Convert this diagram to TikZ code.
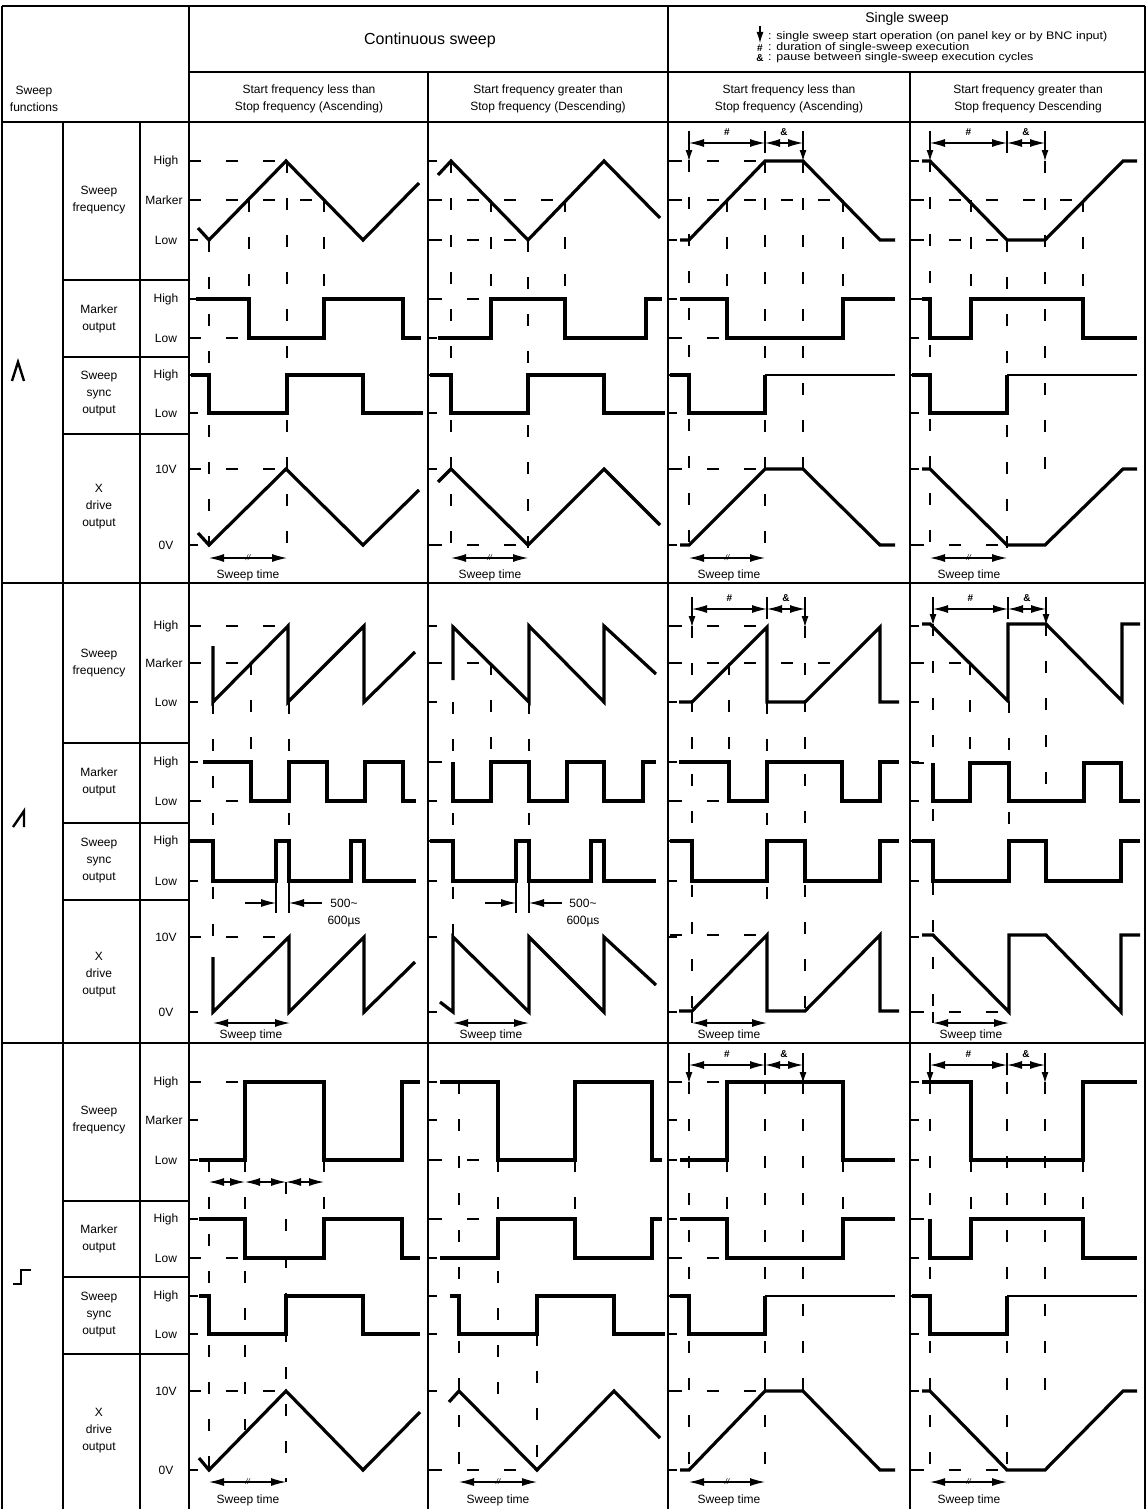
\documentclass[tikz,border=0pt]{standalone}
\usepackage{fontspec}
\setmainfont{Liberation Sans}
\usetikzlibrary{arrows.meta}

\begin{document}
\begin{tikzpicture}[x=1pt,y=-1pt,
                   frame/.style={line width=1.8pt},
                   wave/.style={line width=3.2pt,line join=miter},
                   wavethin/.style={line width=1.7pt},
                   lvl/.style={line width=1.4pt,dash pattern=on 12pt off 25pt},
                   tick/.style={line width=1.4pt},
                   dimarr/.style={line width=1.2pt,{Latex[length=15pt,width=8pt]}-{Latex[length=15pt,width=8pt]}},
                   trig/.style={line width=1.1pt,-{Latex[length=11pt,width=7pt]}},
                   brk/.style={font=\fontsize{8}{8}\selectfont\itshape,inner sep=0pt},
                   lab/.style={font=\fontsize{12}{17}\selectfont,inner sep=0pt,align=center},
                   small/.style={font=\fontsize{11}{11}\selectfont,inner sep=0pt,anchor=west},
                   sym/.style={font=\bfseries\fontsize{10}{10}\selectfont,inner sep=0pt}]
  \useasboundingbox (0,0) rectangle (1146,1509);

  % table
  \draw[frame] (2,6) -- (1145,6) (2,6) -- (2,1509) (1145,6) -- (1145,1509)
               (189,6) -- (189,1509) (668,6) -- (668,1509)
               (428,72) -- (428,1509) (910,72) -- (910,1509)
               (189,72) -- (1145,72) (2,122) -- (1145,122)
               (2,583) -- (1145,583) (2,1043) -- (1145,1043)
               (63,122) -- (63,1509) (140,122) -- (140,1509);

  % headers
  \node[lab] (swf) at (34,99) {Sweep\\functions};
  \node[font=\fontsize{16}{16}\selectfont,inner sep=0pt] (cont) at (430,40) {Continuous sweep};
  \node[font=\fontsize{14}{14}\selectfont,inner sep=0pt] (single) at (907,19) {Single sweep};
  \coordinate (legtop) at (760,26);
  \coordinate (legbot) at (760,43);
  \draw[trig] (legtop) -- (legbot);
  \node[small] (leg1) at (768,37) {\scalebox{1.14}[1]{: single sweep start operation (on panel key or by BNC input)}};
  \node[sym] (hash) at (760,48) {\#};
  \node[small] (leg2) at (768,48) {\scalebox{1.14}[1]{: duration of single-sweep execution}};
  \node[sym] (amp) at (760,58) {\&};
  \node[small] (leg3) at (768,58) {\scalebox{1.14}[1]{: pause between single-sweep execution cycles}};
  \node[lab] (asc1) at (309,99) {Start frequency less than\\Stop frequency (Ascending)};
  \node[lab] (desc1) at (548,99) {Start frequency greater than\\Stop frequency (Descending)};
  \node[lab] (asc2) at (789,99) {Start frequency less than\\Stop frequency (Ascending)};
  \node[lab] (desc2) at (1028,99) {Start frequency greater than\\Stop frequency Descending};

  % function symbols
  \draw[line width=2.4pt] (12,381) -- (18,362) -- (24,381);
  \draw[line width=2.4pt] (13,827) -- (24,811) -- (24,827);
  \draw[line width=2.4pt] (13,1284) -- (21,1284) -- (21,1270) -- (31,1270);

  % row labels, separators and level ticks
  \foreach \b/\yH/\yM/\yL/\mH/\mL/\sH/\sL/\xH/\xL/\sa/\sb/\sc in
      {1/161/200/240/299/338/375/413/469/545/280/357/434,
       2/626/663/702/762/801/841/881/937/1012/743/823/900,
       3/1082/1120/1160/1219/1258/1296/1334/1391/1470/1201/1277/1354}{
    \node[lab] (hi\b) at (166,\yH) {High};
    \node[lab] (mk\b) at (164,\yM) {Marker};
    \node[lab] (lo\b) at (166,\yL) {Low};
    \node[lab] (mhi\b) at (166,\mH) {High};
    \node[lab] (mlo\b) at (166,\mL) {Low};
    \node[lab] (shi\b) at (166,\sH) {High};
    \node[lab] (slo\b) at (166,\sL) {Low};
    \node[lab] (xhi\b) at (166,\xH) {10V};
    \node[lab] (xlo\b) at (166,\xL) {0V};
    \node[lab] (fq\b) at (99,\yM) {Sweep\\frequency};
    \node[lab] (mo\b) at (99,{(\mH+\mL)/2}) {Marker\\output};
    \node[lab] (so\b) at (99,{(\sH+\sL)/2}) {Sweep\\sync\\output};
    \node[lab] (xo\b) at (99,{(\xH+\xL)/2}) {X\\drive\\output};
    \draw[frame] (63,\sa) -- (189,\sa) (63,\sb) -- (189,\sb) (63,\sc) -- (189,\sc);
    \foreach \x in {189,428,668,910}
      \foreach \y in {\yH,\yM,\yL,\mH,\mL,\sH,\sL,\xH,\xL}
        \draw[tick] (\x,\y) -- ++(9,0);
  }

  %% block 1 : triangle
  % continuous, ascending
  \draw[lvl] (189,161) -- (286,161) (189,200) -- (324,200) (189,338) -- (249,338) (189,469) -- (286,469);
  \draw[lvl] (209,240) -- (209,545) (249,200) -- (249,299) (287,161) -- (287,558) (324,200) -- (324,299);
  \draw[wave] (198,228) -- (209,240) -- (286,161) -- (363,240) -- (419,183);
  \draw[wave] (196,299) -- (249,299) -- (249,338) -- (324,338) -- (324,299) -- (403,299) -- (403,338) -- (421,338);
  \draw[wave] (191,375) -- (209,375) -- (209,413) -- (287,413) -- (287,375) -- (363,375) -- (363,413) -- (423,413);
  \draw[wave] (198,533) -- (209,545) -- (286,469) -- (363,545) -- (419,490);
  \draw[dimarr] (209,558) -- node[brk]{//} (287,558);
  \node[lab] (st11) at (248,575) {Sweep time};
  % continuous, descending
  \draw[lvl] (430,200) -- (565,200) (430,240) -- (528,240) (430,299) -- (491,299) (430,545) -- (528,545);
  \draw[lvl] (451,161) -- (451,545) (491,200) -- (491,299) (528,240) -- (528,558) (565,200) -- (565,299);
  \draw[wave] (438,175) -- (451,161) -- (528,240) -- (604,161) -- (660,218);
  \draw[wave] (438,338) -- (491,338) -- (491,299) -- (565,299) -- (565,338) -- (646,338) -- (646,299) -- (662,299);
  \draw[wave] (430,375) -- (451,375) -- (451,413) -- (528,413) -- (528,375) -- (604,375) -- (604,413) -- (665,413);
  \draw[wave] (438,482) -- (451,469) -- (528,545) -- (604,469) -- (660,525);
  \draw[dimarr] (451,558) -- node[brk]{//} (528,558);
  \node[lab] (st12) at (490,575) {Sweep time};
  % single, ascending
  \draw[lvl] (670,161) -- (765,161) (670,200) -- (843,200) (670,338) -- (727,338) (670,469) -- (765,469);
  \draw[lvl] (689,160) -- (689,545) (727,200) -- (727,299) (765,161) -- (765,558) (803,161) -- (803,469) (843,200) -- (843,299);
  \draw[wave] (680,240) -- (689,240) -- (765,161) -- (803,161) -- (880,240) -- (895,240);
  \draw[wave] (680,299) -- (727,299) -- (727,338) -- (843,338) -- (843,299) -- (895,299);
  \draw[wave] (670,375) -- (689,375) -- (689,413) -- (765,413) -- (765,375);
  \draw[wavethin] (765,375) -- (895,375);
  \draw[wave] (680,545) -- (689,545) -- (765,469) -- (803,469) -- (880,545) -- (895,545);
  \draw[dimarr] (689,143) -- node[sym,above=7pt]{\#} (765,143);
  \draw[dimarr] (765,143) -- node[sym,above=7pt]{\&} (803,143);
  \draw[tick,line width=1.1pt] (765,131) -- (765,153);
  \draw[trig] (689,131) -- (689,161);
  \draw[trig] (803,131) -- (803,161);
  \draw[dimarr] (689,558) -- node[brk]{//} (765,558);
  \node[lab] (st13) at (729,575) {Sweep time};
  % single, descending
  \draw[lvl] (912,200) -- (1083,200) (912,240) -- (1007,240) (912,299) -- (930,299) (912,545) -- (1007,545);
  \draw[lvl] (930,160) -- (930,545) (971,200) -- (971,299) (1007,240) -- (1007,558) (1045,161) -- (1045,469) (1083,200) -- (1083,299);
  \draw[wave] (922,161) -- (930,161) -- (1007,240) -- (1045,240) -- (1123,161) -- (1137,161);
  \draw[wave] (922,299) -- (930,299) -- (930,338) -- (971,338) -- (971,299) -- (1083,299) -- (1083,338) -- (1137,338);
  \draw[wave] (912,375) -- (930,375) -- (930,413) -- (1007,413) -- (1007,375);
  \draw[wavethin] (1007,375) -- (1137,375);
  \draw[wave] (922,469) -- (930,469) -- (1007,545) -- (1045,545) -- (1123,469) -- (1137,469);
  \draw[dimarr] (930,143) -- node[sym,above=7pt]{\#} (1007,143);
  \draw[dimarr] (1007,143) -- node[sym,above=7pt]{\&} (1045,143);
  \draw[tick,line width=1.1pt] (1007,131) -- (1007,153);
  \draw[trig] (930,131) -- (930,161);
  \draw[trig] (1045,131) -- (1045,161);
  \draw[dimarr] (930,558) -- node[brk]{//} (1007,558);
  \node[lab] (st14) at (969,575) {Sweep time};

  %% block 2 : sawtooth
  % continuous, ascending
  \draw[lvl] (189,626) -- (288,626) (189,663) -- (251,663) (189,801) -- (251,801) (189,937) -- (289,937);
  \draw[lvl] (213,702) -- (213,1012) (251,663) -- (251,762) (289,702) -- (289,841);
  \draw[wave] (213,646) -- (213,702) -- (288,626) -- (288,702) -- (364,626) -- (364,702) -- (415,652);
  \draw[wave] (203,762) -- (251,762) -- (251,801) -- (289,801) -- (289,762) -- (327,762) -- (327,801) -- (365,801) -- (365,762) -- (403,762) -- (403,801) -- (416,801);
  \draw[wave] (189,841) -- (213,841) -- (213,881) -- (276,881) -- (276,841) -- (289,841) -- (289,881) -- (351,881) -- (351,841) -- (364,841) -- (364,881) -- (416,881);
  \draw[tick,line width=1.1pt] (276,881) -- (276,913) (289,881) -- (289,913);
  \draw[trig,-{Latex[length=15pt,width=8pt]}] (245,903) -- (276,903);
  \draw[trig,-{Latex[length=15pt,width=8pt]}] (322,903) -- (289,903);
  \node[lab] (pw1a) at (344,903) {500\textasciitilde};
  \node[lab] (pw1b) at (344,922) {600µs};
  \draw[wave] (213,957) -- (213,1012) -- (289,937) -- (289,1012) -- (364,937) -- (364,1012) -- (415,962);
  \draw[dimarr] (213,1023) -- (290,1023);
  \node[lab] (st21) at (251,1035) {Sweep time};
  % continuous, descending
  \draw[lvl] (430,663) -- (491,663) (430,762) -- (453,762);
  \draw[lvl] (453,702) -- (453,937) (491,663) -- (491,762) (529,702) -- (529,841);
  \draw[wave] (453,680) -- (453,627) -- (529,702) -- (529,626) -- (604,702) -- (604,626) -- (656,674);
  \draw[wave] (453,762) -- (453,801) -- (491,801) -- (491,762) -- (529,762) -- (529,801) -- (567,801) -- (567,762) -- (604,762) -- (604,801) -- (643,801) -- (643,762) -- (656,762);
  \draw[wave] (430,841) -- (453,841) -- (453,881) -- (516,881) -- (516,841) -- (529,841) -- (529,881) -- (591,881) -- (591,841) -- (604,841) -- (604,881) -- (656,881);
  \draw[tick,line width=1.1pt] (516,881) -- (516,913) (529,881) -- (529,913);
  \draw[trig,-{Latex[length=15pt,width=8pt]}] (485,903) -- (516,903);
  \draw[trig,-{Latex[length=15pt,width=8pt]}] (562,903) -- (529,903);
  \node[lab] (pw2a) at (583,903) {500\textasciitilde};
  \node[lab] (pw2b) at (583,922) {600µs};
  \draw[wave] (440,1002) -- (453,1012) -- (453,937) -- (529,1012) -- (529,937) -- (604,1012) -- (604,937) -- (656,985);
  \draw[dimarr] (453,1023) -- (529,1023);
  \node[lab] (st22) at (491,1035) {Sweep time};
  % single, ascending
  \draw[lvl] (670,626) -- (767,626) (670,663) -- (832,663) (670,801) -- (729,801) (670,935) -- (767,935);
  \draw[lvl] (692,626) -- (692,1011) (729,663) -- (729,762) (767,702) -- (767,915) (805,626) -- (805,1011);
  \draw[wave] (679,702) -- (692,702) -- (767,627) -- (767,702) -- (805,702) -- (880,627) -- (880,702) -- (899,702);
  \draw[wave] (679,762) -- (729,762) -- (729,801) -- (767,801) -- (767,762) -- (842,762) -- (842,801) -- (880,801) -- (880,762) -- (899,762);
  \draw[wave] (670,841) -- (692,841) -- (692,881) -- (767,881) -- (767,841) -- (805,841) -- (805,881) -- (880,881) -- (880,841) -- (899,841);
  \draw[wave] (679,1011) -- (692,1011) -- (767,935) -- (767,1011) -- (805,1011) -- (880,935) -- (880,1011) -- (899,1011);
  \draw[dimarr] (692,609) -- node[sym,above=7pt]{\#} (767,609);
  \draw[dimarr] (767,609) -- node[sym,above=7pt]{\&} (805,609);
  \draw[tick,line width=1.1pt] (767,597) -- (767,619);
  \draw[trig] (692,597) -- (692,627);
  \draw[trig] (805,597) -- (805,627);
  \draw[tick,line width=1.1pt] (692,1011) -- (692,1023);
  \draw[dimarr] (692,1023) -- (767,1023);
  \node[lab] (st23) at (729,1035) {Sweep time};
  % single, descending
  \draw[lvl] (912,663) -- (965,663) (912,763) -- (933,763) (912,1012) -- (1009,1012);
  \draw[lvl] (933,624) -- (933,1012) (970,663) -- (970,763) (1009,701) -- (1009,841) (1046,624) -- (1046,801);
  \draw[wave] (922,624) -- (930,624) -- (1008,701) -- (1008,624) -- (1046,624) -- (1122,701) -- (1122,624) -- (1140,624);
  \draw[wave] (933,763) -- (933,801) -- (970,801) -- (970,763) -- (1009,763) -- (1009,801) -- (1084,801) -- (1084,763) -- (1121,763) -- (1121,801) -- (1140,801);
  \draw[wave] (912,841) -- (933,841) -- (933,881) -- (1009,881) -- (1009,841) -- (1046,841) -- (1046,881) -- (1121,881) -- (1121,841) -- (1140,841);
  \draw[wave] (922,935) -- (933,935) -- (1009,1012) -- (1009,935) -- (1046,935) -- (1121,1012) -- (1121,935) -- (1140,935);
  \draw[dimarr] (933,609) -- node[sym,above=7pt]{\#} (1008,609);
  \draw[dimarr] (1008,609) -- node[sym,above=7pt]{\&} (1046,609);
  \draw[tick,line width=1.1pt] (1008,597) -- (1008,619);
  \draw[trig] (933,597) -- (933,625);
  \draw[trig] (1046,597) -- (1046,625);
  \draw[tick,line width=1.1pt] (933,1012) -- (933,1023);
  \draw[dimarr] (933,1023) -- (1009,1023);
  \node[lab] (st24) at (971,1035) {Sweep time};

  %% block 3 : step
  % continuous, ascending
  \draw[lvl] (189,1082) -- (245,1082) (189,1258) -- (245,1258) (189,1391) -- (286,1391);
  \draw[lvl] (209,1160) -- (209,1470) (245,1160) -- (245,1430) (286,1182) -- (286,1482) (324,1160) -- (324,1219);
  \draw[wave] (199,1160) -- (245,1160) -- (245,1082) -- (324,1082) -- (324,1160) -- (402,1160) -- (402,1082) -- (420,1082);
  \draw[dimarr] (209,1182) -- (245,1182);
  \draw[dimarr] (245,1182) -- (286,1182);
  \draw[dimarr] (286,1182) -- (324,1182);
  \draw[wave] (199,1219) -- (245,1219) -- (245,1258) -- (324,1258) -- (324,1219) -- (402,1219) -- (402,1258) -- (420,1258);
  \draw[wave] (199,1296) -- (209,1296) -- (209,1334) -- (286,1334) -- (286,1296) -- (363,1296) -- (363,1334) -- (420,1334);
  \draw[wave] (199,1458) -- (209,1470) -- (286,1391) -- (363,1470) -- (420,1412);
  \draw[dimarr] (209,1482) -- node[brk]{//} (286,1482);
  \node[lab] (st31) at (248,1500) {Sweep time};
  % continuous, descending
  \draw[lvl] (430,1160) -- (482,1160) (430,1219) -- (482,1219) (430,1470) -- (537,1470);
  \draw[lvl] (459,1082) -- (459,1470) (498,1160) -- (498,1400) (575,1160) -- (575,1219) (537,1334) -- (537,1470);
  \draw[wave] (440,1082) -- (498,1082) -- (498,1160) -- (575,1160) -- (575,1082) -- (652,1082) -- (652,1160) -- (662,1160);
  \draw[wave] (440,1258) -- (498,1258) -- (498,1219) -- (575,1219) -- (575,1258) -- (652,1258) -- (652,1219) -- (662,1219);
  \draw[wave] (450,1296) -- (459,1296) -- (459,1334) -- (537,1334) -- (537,1296) -- (614,1296) -- (614,1334) -- (665,1334);
  \draw[wave] (449,1402) -- (459,1391) -- (537,1470) -- (614,1391) -- (660,1438);
  \draw[dimarr] (459,1482) -- node[brk]{//} (537,1482);
  \node[lab] (st32) at (498,1500) {Sweep time};
  % single, ascending
  \draw[lvl] (670,1082) -- (727,1082) (670,1258) -- (727,1258) (670,1391) -- (765,1391);
  \draw[lvl] (689,1082) -- (689,1470) (727,1160) -- (727,1219) (765,1082) -- (765,1482) (803,1082) -- (803,1391) (843,1160) -- (843,1219);
  \draw[wave] (680,1160) -- (727,1160) -- (727,1082) -- (843,1082) -- (843,1160) -- (895,1160);
  \draw[wave] (680,1219) -- (727,1219) -- (727,1258) -- (843,1258) -- (843,1219) -- (895,1219);
  \draw[wave] (670,1296) -- (689,1296) -- (689,1334) -- (765,1334) -- (765,1296);
  \draw[wavethin] (765,1296) -- (895,1296);
  \draw[wave] (680,1470) -- (689,1470) -- (765,1391) -- (803,1391) -- (880,1470) -- (895,1470);
  \draw[dimarr] (689,1065) -- node[sym,above=7pt]{\#} (765,1065);
  \draw[dimarr] (765,1065) -- node[sym,above=7pt]{\&} (803,1065);
  \draw[tick,line width=1.1pt] (765,1053) -- (765,1075);
  \draw[trig] (689,1053) -- (689,1083);
  \draw[trig] (803,1053) -- (803,1083);
  \draw[dimarr] (689,1482) -- node[brk]{//} (765,1482);
  \node[lab] (st33) at (729,1500) {Sweep time};
  % single, descending
  \draw[lvl] (912,1219) -- (930,1219) (912,1470) -- (1007,1470);
  \draw[lvl] (930,1082) -- (930,1470) (971,1160) -- (971,1219) (1007,1082) -- (1007,1482) (1045,1082) -- (1045,1391) (1083,1160) -- (1083,1219);
  \draw[wave] (922,1082) -- (971,1082) -- (971,1160) -- (1083,1160) -- (1083,1082) -- (1137,1082);
  \draw[wave] (930,1219) -- (930,1258) -- (971,1258) -- (971,1219) -- (1083,1219) -- (1083,1258) -- (1137,1258);
  \draw[wave] (912,1296) -- (930,1296) -- (930,1334) -- (1007,1334) -- (1007,1296);
  \draw[wavethin] (1007,1296) -- (1137,1296);
  \draw[wave] (922,1391) -- (930,1391) -- (1007,1470) -- (1045,1470) -- (1123,1391) -- (1137,1391);
  \draw[dimarr] (930,1065) -- node[sym,above=7pt]{\#} (1007,1065);
  \draw[dimarr] (1007,1065) -- node[sym,above=7pt]{\&} (1045,1065);
  \draw[tick,line width=1.1pt] (1007,1053) -- (1007,1075);
  \draw[trig] (930,1053) -- (930,1083);
  \draw[trig] (1045,1053) -- (1045,1083);
  \draw[dimarr] (930,1482) -- node[brk]{//} (1007,1482);
  \node[lab] (st34) at (969,1500) {Sweep time};
\end{tikzpicture}
\end{document}
